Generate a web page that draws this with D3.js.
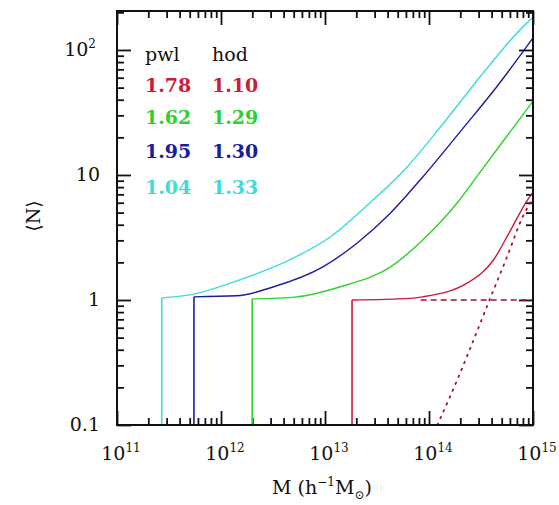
<!DOCTYPE html>
<html>
<head>
<meta charset="utf-8">
<script src="https://cdn.jsdelivr.net/npm/d3@7"></script>
<style>
  body { margin: 0; background: #fff; }
  svg text { font-family: "DejaVu Serif", "Liberation Serif", serif; fill: #111; }
</style>
</head>
<body>
<svg id="chart" width="559" height="505"></svg>
<script>
// tick labels
var xTickExp = [11, 12, 13, 14, 15];
var yTicks = [0.1, 1, 10, 100];
var yTickText = ["0.1", "1", "10", "10"];
var yTickSup = ["", "", "", "2"];

// legend
var legendHead = ["pwl", "hod"];
var legendPwl = ["1.78", "1.62", "1.95", "1.04"];
var legendHod = ["1.10", "1.29", "1.30", "1.33"];
var colors = ["#cc1a3a", "#2ed12e", "#1c1ca0", "#3cdcdc"];

// series: log10 M and <N>
var cyanLogM = [11.43, 11.70, 12.18, 12.66, 13.05, 13.43, 13.79, 14.11, 14.49, 14.94, 15.0];
var cyanN    = [1.04, 1.10, 1.45, 2.09, 3.19, 5.97, 11.6, 24.2, 60.8, 164, 182];
var blueLogM = [11.74, 12.15, 12.50, 12.98, 13.31, 13.63, 13.94, 14.33, 14.65, 15.0];
var blueN    = [1.06, 1.08, 1.27, 1.84, 2.86, 4.97, 9.64, 23.8, 50.6, 125];
var greenLogM = [12.30, 12.73, 13.14, 13.63, 13.94, 14.27, 14.50, 14.75, 15.0];
var greenN    = [1.02, 1.06, 1.27, 1.84, 3.02, 5.97, 10.8, 20.5, 39];
var redLogM = [13.26, 13.82, 13.94, 14.37, 14.62, 14.78, 14.94, 15.0];
var redN    = [1.0, 1.03, 1.06, 1.37, 2.09, 3.56, 6.19, 7.3];
// red satellite term (dotted) and central term (dashed)
var redSatLogM = [14.08, 14.20, 14.39, 14.57, 14.75, 14.90, 15.0];
var redSatN    = [0.1, 0.167, 0.398, 0.946, 2.21, 4.61, 6.5];
var redCenLogM = [13.92, 15.0];
var redCenN    = [1, 1];

var svg = d3.select("#chart"),
    pLeft = 117, pRight = 533, pTop = 11, pBottom = 425;

var x = d3.scaleLog().domain([1e11, 1e15]).range([pLeft, pRight]);
var y = d3.scaleLog().domain([0.1, 205]).range([pBottom, pTop]);

// tick values
var xMajor = xTickExp.map(function(e) { return Math.pow(10, e); });
var xMinor = [];
xTickExp.slice(0, -1).forEach(function(e) {
  for (var k = 2; k <= 9; k++) xMinor.push(k * Math.pow(10, e));
});
var yMinor = [];
[-1, 0, 1, 2].forEach(function(e) {
  for (var k = 2; k <= 9; k++) {
    var v = k * Math.pow(10, e);
    if (v <= 205) yMinor.push(v);
  }
});

// inward ticks via d3 axes, labels drawn separately
function tickAxis(axis, vals, size, tx, ty) {
  var g = svg.append("g")
      .attr("transform", "translate(" + tx + "," + ty + ")")
      .call(axis.tickValues(vals).tickSize(-size).tickFormat(function() { return ""; }));
  g.select(".domain").remove();
  g.selectAll(".tick line").attr("stroke", "#111").attr("stroke-width", 1.8);
}
tickAxis(d3.axisBottom(x), xMajor, 14, 0, pBottom);
tickAxis(d3.axisBottom(x), xMinor, 7, 0, pBottom);
tickAxis(d3.axisTop(x), xMajor, 14, 0, pTop);
tickAxis(d3.axisTop(x), xMinor, 7, 0, pTop);
tickAxis(d3.axisLeft(y), yTicks, 14, pLeft, 0);
tickAxis(d3.axisLeft(y), yMinor, 7, pLeft, 0);
tickAxis(d3.axisRight(y), yTicks, 14, pRight, 0);
tickAxis(d3.axisRight(y), yMinor, 7, pRight, 0);

// curves
var line = d3.line()
    .curve(d3.curveMonotoneX)
    .x(function(d) { return x(Math.pow(10, d[0])); })
    .y(function(d) { return y(d[1]); });
var straight = d3.line()
    .x(function(d) { return x(Math.pow(10, d[0])); })
    .y(function(d) { return y(d[1]); });

function zip(a, b) { return a.map(function(v, i) { return [v, b[i]]; }); }

var series = [
  {m: redLogM, n: redN, c: colors[0]},
  {m: greenLogM, n: greenN, c: colors[1]},
  {m: blueLogM, n: blueN, c: colors[2]},
  {m: cyanLogM, n: cyanN, c: colors[3]}
];

series.forEach(function(s) {
  // step up at Mmin
  svg.append("path")
      .attr("d", straight([[s.m[0], 0.1], [s.m[0], s.n[0]]]))
      .attr("fill", "none")
      .attr("stroke", s.c)
      .attr("stroke-width", 1.6);
  svg.append("path")
      .attr("d", line(zip(s.m, s.n)))
      .attr("fill", "none")
      .attr("stroke", s.c)
      .attr("stroke-width", 1.4);
});

svg.append("path")
    .attr("d", straight(zip(redCenLogM, redCenN)))
    .attr("fill", "none")
    .attr("stroke", "#a01030")
    .attr("stroke-width", 1.3)
    .attr("stroke-dasharray", "6 4");
svg.append("path")
    .attr("d", line(zip(redSatLogM, redSatN)))
    .attr("fill", "none")
    .attr("stroke", "#a01030")
    .attr("stroke-width", 1.8)
    .attr("stroke-dasharray", "1.5 6")
    .attr("stroke-linecap", "round");

// frame
svg.append("rect")
    .attr("x", pLeft).attr("y", pTop)
    .attr("width", pRight - pLeft).attr("height", pBottom - pTop)
    .attr("fill", "none")
    .attr("stroke", "#111")
    .attr("stroke-width", 2);

// x tick labels
xTickExp.forEach(function(e) {
  var t = svg.append("text")
      .attr("x", x(Math.pow(10, e)) + 4)
      .attr("y", 460)
      .attr("text-anchor", "middle")
      .attr("font-size", 19);
  t.append("tspan").text("10");
  t.append("tspan").attr("font-size", 12).attr("dy", -8).text(e);
});

// y tick labels
yTicks.forEach(function(v, i) {
  var t = svg.append("text")
      .attr("x", yTickSup[i] ? 96 : 100)
      .attr("y", y(v) + 6)
      .attr("text-anchor", "end")
      .attr("font-size", 19);
  t.append("tspan").text(yTickText[i]);
  if (yTickSup[i]) t.append("tspan").attr("font-size", 12).attr("dy", -8).text(yTickSup[i]);
});

// axis titles
var xt = svg.append("text")
    .attr("x", 322).attr("y", 494)
    .attr("text-anchor", "middle")
    .attr("font-size", 19);
xt.append("tspan").text("M (h");
xt.append("tspan").attr("font-size", 12).attr("dy", -8).text("\u22121");
xt.append("tspan").attr("dy", 8).text("M");
xt.append("tspan").attr("font-size", 12).attr("dy", 5).text("\u2299");
xt.append("tspan").attr("dy", -5).text(")");

svg.append("text")
    .attr("transform", "translate(40,216) rotate(-90)")
    .attr("text-anchor", "middle")
    .attr("font-size", 19)
    .text("\u27e8N\u27e9");

// legend
svg.append("text").attr("x", 145).attr("y", 61).attr("font-size", 19).text(legendHead[0]);
svg.append("text").attr("x", 212).attr("y", 61).attr("font-size", 19).text(legendHead[1]);
var rowY = [92, 124, 158, 194];
legendPwl.forEach(function(s, i) {
  svg.append("text").attr("x", 145).attr("y", rowY[i]).attr("font-size", 19)
      .attr("font-weight", "bold").style("fill", colors[i]).text(s);
  svg.append("text").attr("x", 212).attr("y", rowY[i]).attr("font-size", 19)
      .attr("font-weight", "bold").style("fill", colors[i]).text(legendHod[i]);
});
</script>
</body>
</html>
